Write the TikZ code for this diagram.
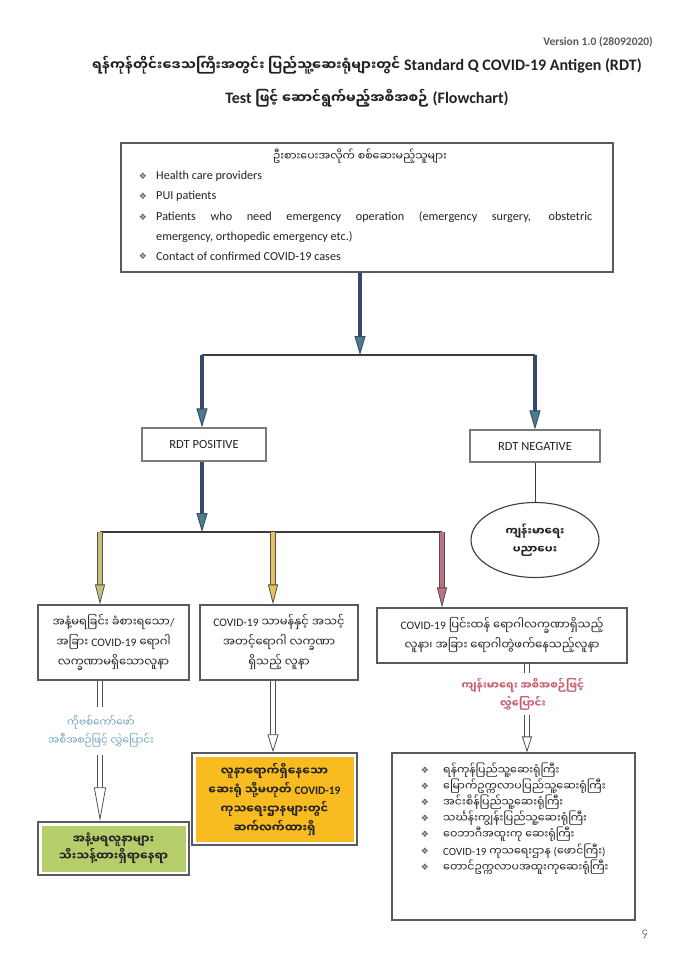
\documentclass[tikz,border=0pt]{standalone}
\usepackage{fontspec}
\setmainfont{Carlito}
\newfontfamily\my[Script=Myanmar]{Noto Sans Myanmar UI}
\newfontfamily\dv{DejaVu Sans}
\usetikzlibrary{arrows.meta,shapes.geometric,calc}
\definecolor{ink}{RGB}{35,35,35}
\definecolor{edgec}{RGB}{80,80,80}
\definecolor{boxgray}{RGB}{90,90,90}
\definecolor{linec}{RGB}{60,60,60}
\definecolor{navyc}{RGB}{52,74,102}
\definecolor{tealc}{RGB}{78,122,142}
\definecolor{olivec}{RGB}{200,192,120}
\definecolor{goldc}{RGB}{232,192,92}
\definecolor{rosec}{RGB}{192,112,128}
\definecolor{greenc}{RGB}{182,205,108}
\definecolor{orangec}{RGB}{248,188,32}
\definecolor{bluelab}{RGB}{110,165,192}
\definecolor{redlab}{RGB}{200,92,112}
\definecolor{bulc}{RGB}{100,100,100}
\newcommand\bluearr[2]{%
  \draw[navyc, line width=4.6pt, shorten >=15pt] (#1) -- (#2);
  \draw[navyc, line width=0.9pt, -{Triangle[length=19pt,width=11pt,fill=tealc]}] (#1) -- (#2);}
\newcommand\hollowarr[5]{%
  \draw[draw=edgec, line width=0.8pt, double=#3, double distance=3.6pt, shorten >=#4-2pt] (#1) -- (#2);
  \draw[draw=#3, line width=0.8pt, -{Triangle[length=#4,width=#5,fill=#3,color=edgec]}] (#1) -- (#2);}
\newcommand\pipeline[2]{%
  \draw[draw=edgec, line width=0.9pt, double=white, double distance=3.6pt] (#1) -- (#2);}
\newcommand\lt[1]{{\rmfamily #1}}
\tikzset{
  box/.style={draw=boxgray, line width=1.1pt, rectangle, inner sep=0pt, align=center, text=ink},
  rdtbox/.style={draw=boxgray!80, line width=1.2pt, rectangle, inner sep=0pt, text=ink, font=\fontsize{12.5}{14}\selectfont},
  mybox/.style={box, font=\my\fontsize{11.5}{20}\selectfont},
  hline/.style={draw=linec, line width=1.1pt},
  bul/.style={font=\dv\fontsize{9}{10}\selectfont, text=bulc, inner sep=0pt},
  txt/.style={anchor=west, inner sep=0pt, text=ink, font=\fontsize{12.2}{14}\selectfont},
  ltxt/.style={anchor=west, inner sep=0pt, text=ink, font=\my\fontsize{11}{13}\selectfont},
  inset/.style={path picture={\fill[#1] ([shift={(3.5,3.5)}]path picture bounding box.north west) rectangle ([shift={(-3.5,-3.5)}]path picture bounding box.south east);}}
}
\begin{document}
\begin{tikzpicture}[x=1pt,y=-1pt]
\useasboundingbox[fill=white] (0,0) rectangle (690,960);

% header
\node[anchor=east, inner sep=0pt, text=ink!75, font=\bfseries\fontsize{11.5}{13}\selectfont] (ver) at (653,42) {Version 1.0 (28092020)};
\node[inner sep=0pt, text=ink, font=\bfseries\fontsize{16}{18}\selectfont] (title1) at (367,65)
  {{\my\fontsize{13.5}{16}\selectfont ရန်ကုန်တိုင်းဒေသကြီးအတွင်း ပြည်သူ့ဆေးရုံများတွင်} Standard Q COVID-19 Antigen (RDT)};
\node[inner sep=0pt, text=ink, font=\bfseries\fontsize{16}{18}\selectfont] (title2) at (367,98)
  {Test {\my\fontsize{13.5}{16}\selectfont ဖြင့် ဆောင်ရွက်မည့်အစီအစဉ်} (Flowchart)};

% top box
\node[box, minimum width=492pt, minimum height=129pt] (top) at (367,207.5) {};
\node[inner sep=0pt, text=ink, font=\my\fontsize{11}{13}\selectfont] (hdr) at (360,156) {ဦးစားပေးအလိုက် စစ်ဆေးမည့်သူများ};
\node[bul] (b1) at (143,176) {❖};
\node[txt] (t1) at (156,176) {Health care providers};
\node[bul] (b2) at (143,196) {❖};
\node[txt] (t2) at (156,196) {PUI patients};
\node[bul] (b3) at (143,217) {❖};
\node[txt] (t3) at (156,217) {\makebox[436pt][s]{Patients who need emergency operation (emergency surgery, obstetric}};
\node[txt] (t4) at (156,237) {emergency, orthopedic emergency etc.)};
\node[bul] (b4) at (143,256) {❖};
\node[txt] (t5) at (156,256) {Contact of confirmed COVID-19 cases};

% RDT boxes
\node[rdtbox, minimum width=124pt, minimum height=33pt] (pos) at (204,444.5) {RDT POSITIVE};
\node[rdtbox, minimum width=130pt, minimum height=32pt] (neg) at (535,446) {RDT NEGATIVE};
\node[ellipse, draw=linec, line width=1.1pt, minimum width=128pt, minimum height=75pt, inner sep=0pt, align=center,
      text=ink, font=\my\bfseries\fontsize{11}{18}\selectfont] (edu) at (535,540) {ကျန်းမာရေး\\ပညာပေး};

% category boxes
\node[mybox, minimum width=151pt, minimum height=75pt] (lbox) at (113.5,642.5)
  {အနံ့မရခြင်း ခံစားရသော\lt{/}\\အခြား \lt{COVID-19} ရောဂါ\\လက္ခဏာမရှိသောလူနာ};
\node[mybox, minimum width=158pt, minimum height=75pt] (mbox) at (279,642.5)
  {\lt{COVID-19} သာမန်နှင့် အသင့်\\အတင့်ရောဂါ လက္ခဏာ\\ရှိသည့် လူနာ};
\node[mybox, minimum width=250pt, minimum height=55pt] (rbox) at (502,635.5)
  {\lt{COVID-19} ပြင်းထန် ရောဂါလက္ခဏာရှိသည့်\\လူနာ၊ အခြား ရောဂါတွဲဖက်နေသည့်လူနာ};

% arrow labels
\node[inner sep=0pt, minimum height=47pt, align=center, text=bluelab, font=\my\fontsize{10.5}{18}\selectfont] (blab) at (101,731)
  {ကိုဗစ်ကော်ဖော်\\အစီအစဉ်ဖြင့် လွှဲပြောင်း};
\node[inner sep=0pt, minimum height=42pt, align=center, text=redlab, font=\my\bfseries\fontsize{10.5}{18}\selectfont] (rlab) at (523,694)
  {ကျန်းမာရေး အစီအစဉ်ဖြင့်\\လွှဲပြောင်း};

% result boxes
\node[mybox, inset=greenc, line width=1.3pt, minimum width=151pt, minimum height=53pt, font=\my\bfseries\fontsize{11.5}{17}\selectfont] (gbox) at (113.5,848.5)
  {အနံ့မရလူနာများ\\သီးသန့်ထားရှိရာနေရာ};
\node[mybox, inset=orangec, line width=1.3pt, minimum width=165pt, minimum height=92pt, font=\my\bfseries\fontsize{11.5}{19}\selectfont] (obox) at (274.5,799)
  {လူနာရောက်ရှိနေသော\\ဆေးရုံ သို့မဟုတ် \lt{COVID-19}\\ကုသရေးဌာနများတွင်\\ဆက်လက်ထားရှိ};
\node[box, minimum width=243pt, minimum height=167pt] (lst) at (513.5,836.5) {};
\node[bul] (c1) at (425,770) {❖};
\node[ltxt] (l1) at (443,770) {ရန်ကုန်ပြည်သူ့ဆေးရုံကြီး};
\node[bul] (c2) at (425,786) {❖};
\node[ltxt] (l2) at (443,786) {မြောက်ဥက္ကလာပပြည်သူ့ဆေးရုံကြီး};
\node[bul] (c3) at (425,802) {❖};
\node[ltxt] (l3) at (443,802) {အင်းစိန်ပြည်သူ့ဆေးရုံကြီး};
\node[bul] (c4) at (425,818) {❖};
\node[ltxt] (l4) at (443,818) {သင်္ဃန်းကျွန်းပြည်သူ့ဆေးရုံကြီး};
\node[bul] (c5) at (425,834) {❖};
\node[ltxt] (l5) at (443,834) {ဝေဘာဂီအထူးကု ဆေးရုံကြီး};
\node[bul] (c6) at (425,851) {❖};
\node[ltxt] (l6) at (443,851) {\lt{COVID-19} ကုသရေးဌာန \lt{(}ဖောင်ကြီး\lt{)}};
\node[bul] (c7) at (425,867) {❖};
\node[ltxt] (l7) at (443,867) {တောင်ဥက္ကလာပအထူးကုဆေးရုံကြီး};

\node[inner sep=0pt, text=ink!70, font=\my\fontsize{10}{12}\selectfont] (pg) at (645,935) {၄};

% junction coordinates
\coordinate (j1) at (360,355);
\coordinate (jl) at (202,355);
\coordinate (jr) at (535,355);
\coordinate (j2) at (202,532);
\coordinate (ka) at (100,532);
\coordinate (kb) at (273,532);
\coordinate (kc) at (442,532);
\coordinate (rx) at (527,663);

% connectors
\draw[hline] (jl) -- (jr);
\draw[hline] (ka) -- (kc);
\bluearr{top.south -| j1}{j1}
\bluearr{jl}{pos.north -| jl}
\bluearr{jr}{neg.north -| jr}
\bluearr{pos.south -| jl}{j2}
\draw[linec, line width=1pt] (neg.south) -- (edu.north);

\hollowarr{ka}{lbox.north -| ka}{olivec}{20pt}{10pt}
\hollowarr{kb}{mbox.north -| kb}{goldc}{20pt}{10pt}
\hollowarr{kc}{rbox.north -| kc}{rosec}{20pt}{10pt}

\pipeline{lbox.south -| ka}{blab.north -| ka}
\hollowarr{blab.south -| ka}{gbox.north -| ka}{white}{34pt}{12pt}
\hollowarr{mbox.south -| kb}{obox.north -| kb}{white}{18pt}{11pt}
\pipeline{rbox.south -| rx}{rlab.north -| rx}
\hollowarr{rlab.south -| rx}{lst.north -| rx}{white}{16pt}{10pt}
\end{tikzpicture}
\end{document}
